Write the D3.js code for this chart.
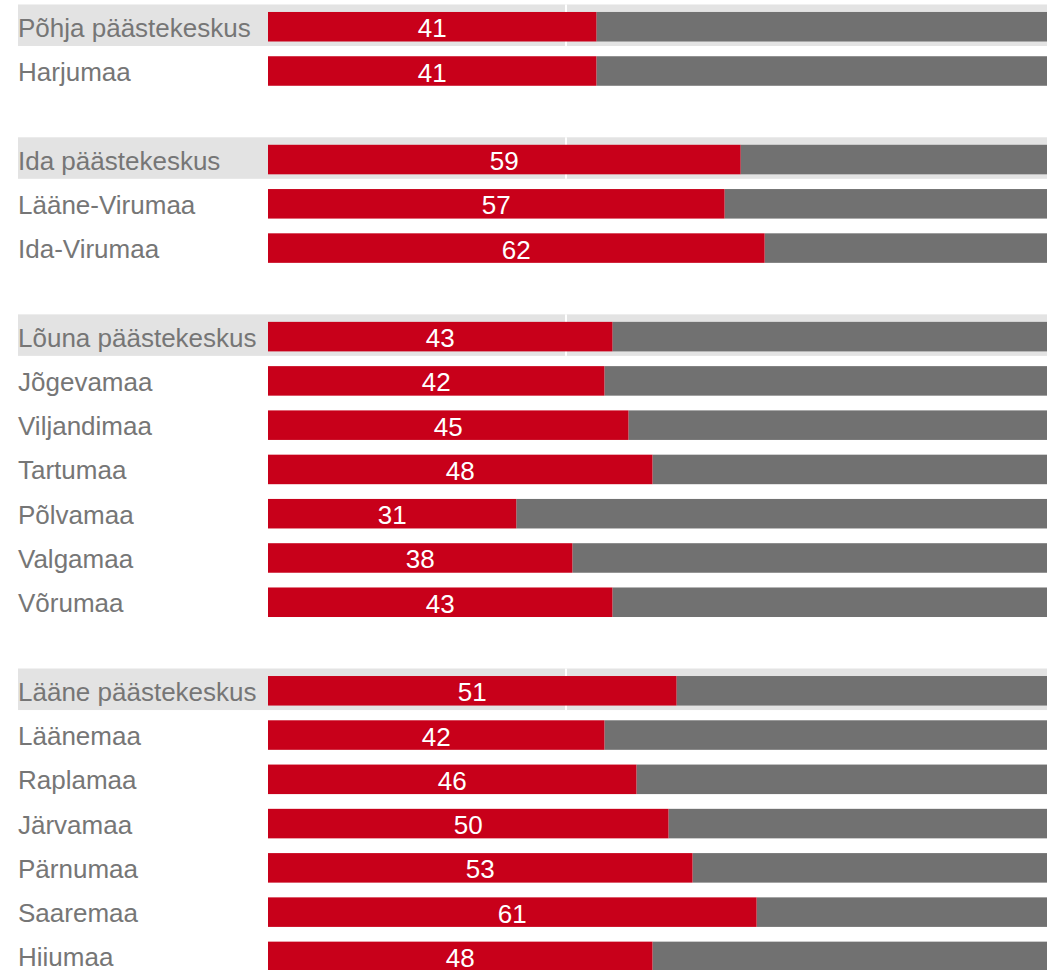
<!DOCTYPE html>
<html>
<head>
<meta charset="utf-8">
<script src="https://cdn.jsdelivr.net/npm/d3@7"></script>
<style>
  body { margin: 0; background: #fff; overflow: hidden; }
  svg { display: block; }
</style>
</head>
<body>
<script>
var width = 1047,
    height = 970;

var redColor = '#c8001a',
    greyColor = '#717171',
    bandColor = '#e3e3e3',
    labelColor = '#767676';

// regional centres and their counties
var regions = ['Põhja päästekeskus', 'Ida päästekeskus', 'Lõuna päästekeskus', 'Lääne päästekeskus'];
var regionValues = [41, 59, 43, 51];
var counties = [
  ['Harjumaa'],
  ['Lääne-Virumaa', 'Ida-Virumaa'],
  ['Jõgevamaa', 'Viljandimaa', 'Tartumaa', 'Põlvamaa', 'Valgamaa', 'Võrumaa'],
  ['Läänemaa', 'Raplamaa', 'Järvamaa', 'Pärnumaa', 'Saaremaa', 'Hiiumaa']
];
var countyValues = [
  [41],
  [57, 62],
  [42, 45, 48, 31, 38, 43],
  [42, 46, 50, 53, 61, 48]
];

// flatten into rows, with an empty row between groups
var rows = [];
regions.forEach(function(r, i) {
  if (i > 0) rows.push({key: 'gap' + i, label: '', value: null, header: false});
  rows.push({key: r, label: r, value: regionValues[i], header: true});
  counties[i].forEach(function(c, j) {
    rows.push({key: c, label: c, value: countyValues[i][j], header: false});
  });
});

var svg = d3.select('body')
  .append('svg')
  .attr('width', width)
  .attr('height', height);

var xScale = d3.scaleLinear()
  .domain([0, 100])
  .range([268, 1069]);

var step = 44.27;
var yScale = d3.scaleBand()
  .domain(rows.map(function(d) { return d.key; }))
  .range([4.6, 4.6 + step * rows.length])
  .paddingInner(0.333)
  .paddingOuter(0.1665);

var bw = yScale.bandwidth();
var dataRows = rows.filter(function(d) { return d.value !== null; });

// grey band behind the regional rows
var headers = rows.filter(function(d) { return d.header; });
svg.selectAll('.band')
  .data(headers)
  .enter()
  .append('rect')
  .attr('class', 'band')
  .attr('x', 18)
  .attr('y', function(d) { return yScale(d.key) - 7.5; })
  .attr('width', width - 18)
  .attr('height', bw + 12)
  .style('fill', bandColor);

svg.selectAll('.bandline')
  .data(headers)
  .enter()
  .append('rect')
  .attr('class', 'bandline')
  .attr('x', xScale(37.2) - 1)
  .attr('y', function(d) { return yScale(d.key) - 7.5; })
  .attr('width', 2)
  .attr('height', bw + 12)
  .style('fill', '#fff');

// remainder up to 100
svg.selectAll('.rest')
  .data(dataRows)
  .enter()
  .append('rect')
  .attr('class', 'rest')
  .attr('x', function(d) { return xScale(d.value); })
  .attr('y', function(d) { return yScale(d.key); })
  .attr('width', function(d) { return xScale(100) - xScale(d.value); })
  .attr('height', bw)
  .style('fill', greyColor);

svg.selectAll('.bar')
  .data(dataRows)
  .enter()
  .append('rect')
  .attr('class', 'bar')
  .attr('x', xScale(0))
  .attr('y', function(d) { return yScale(d.key); })
  .attr('width', function(d) { return xScale(d.value) - xScale(0); })
  .attr('height', bw)
  .style('fill', redColor);

svg.selectAll('.label')
  .data(dataRows)
  .enter()
  .append('text')
  .attr('class', 'label')
  .attr('x', 18)
  .attr('y', function(d) { return yScale(d.key) + bw / 2 + 10; })
  .style('font-family', '"Liberation Sans", Arial, sans-serif')
  .style('font-size', '26px')
  .style('fill', labelColor)
  .text(function(d) { return d.label; });

svg.selectAll('.value')
  .data(dataRows)
  .enter()
  .append('text')
  .attr('class', 'value')
  .attr('x', function(d) { return (xScale(0) + xScale(d.value)) / 2; })
  .attr('y', function(d) { return yScale(d.key) + bw / 2 + 10.5; })
  .attr('text-anchor', 'middle')
  .style('font-family', '"Liberation Sans", Arial, sans-serif')
  .style('font-size', '26px')
  .style('fill', '#fff')
  .text(function(d) { return d.value; });
</script>
</body>
</html>
